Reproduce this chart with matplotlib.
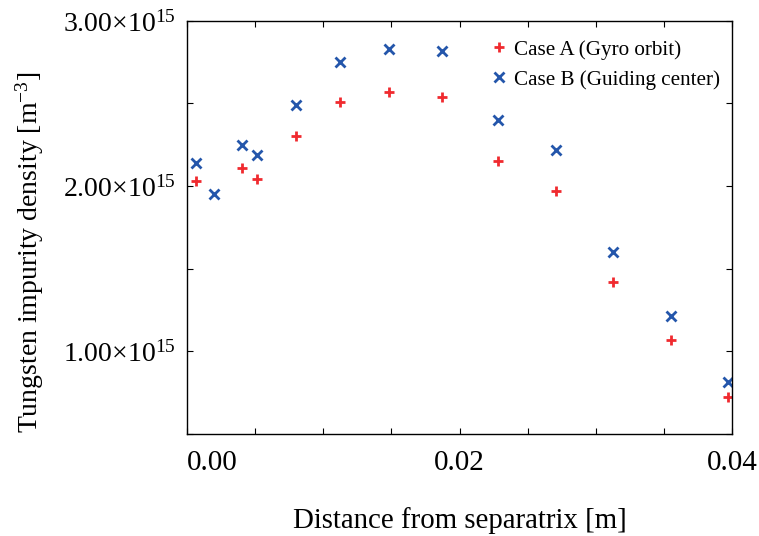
import numpy as np
import matplotlib
matplotlib.use('Agg')
import matplotlib.pyplot as plt
from matplotlib.ticker import MultipleLocator, FuncFormatter

plt.rcParams['font.family'] = ['Liberation Serif', 'DejaVu Serif']
plt.rcParams['mathtext.fontset'] = 'custom'
plt.rcParams['mathtext.rm'] = 'Liberation Serif'
plt.rcParams['mathtext.it'] = 'Liberation Serif:italic'

# distance from separatrix [m]
dist_a = [0.00068, 0.00403, 0.00518, 0.00799, 0.01124, 0.01485, 0.01874,
          0.02284, 0.02705, 0.03127, 0.03553, 0.03966]
dens_a = [2.03e15, 2.11e15, 2.04e15, 2.30e15, 2.51e15, 2.57e15, 2.54e15,
          2.15e15, 1.97e15, 1.42e15, 1.07e15, 0.72e15]

dist_b = [0.00068, 0.00202, 0.00403, 0.00518, 0.00799, 0.01124, 0.01485,
          0.01874, 0.02284, 0.02705, 0.03127, 0.03553, 0.03966]
dens_b = [2.14e15, 1.95e15, 2.25e15, 2.19e15, 2.49e15, 2.75e15, 2.83e15,
          2.82e15, 2.40e15, 2.22e15, 1.60e15, 1.21e15, 0.81e15]

fig = plt.figure(figsize=(7.59, 5.36), dpi=100)
ax = fig.add_axes([0.246, 0.191, 0.719, 0.770])

ax.plot(dist_a, dens_a, '+', color='#f02a2f', ms=7, mew=2,
        label='Case A (Gyro orbit)')
ax.plot(dist_b, dens_b, 'x', color='#2456ab', ms=6.5, mew=2,
        label='Case B (Guiding center)')

ax.set_xlim(0, 0.04)
ax.set_ylim(0.5e15, 3.0e15)

ax.xaxis.set_major_locator(MultipleLocator(0.02))
ax.xaxis.set_minor_locator(MultipleLocator(0.005))
ax.yaxis.set_major_locator(MultipleLocator(1e15))
ax.yaxis.set_minor_locator(MultipleLocator(0.5e15))
ax.xaxis.set_major_formatter(FuncFormatter(lambda v, p: f'{v:.2f}'))
ax.yaxis.set_major_formatter(
    FuncFormatter(lambda v, p: r'$%.2f{\times}10^{15}$' % (v / 1e15)))

ax.tick_params(which='both', direction='in', top=True, right=True,
               length=4, width=0.8, labelsize=20)
ax.tick_params(axis='x', pad=12, labelsize=21)
ax.tick_params(axis='y', pad=8)
for s in ax.spines.values():
    s.set_linewidth(1.0)

ax.set_xlabel('Distance from separatrix [m]', fontsize=20.8, labelpad=22)
ax.set_ylabel(r'Tungsten impurity density [m$^{-3}$]', fontsize=20)
ax.yaxis.set_label_coords(-0.258, 0.44)

ax.legend(loc='upper right', bbox_to_anchor=(1.0, 0.985), frameon=False,
          fontsize=15.2, handlelength=0.6, handletextpad=0.4,
          borderaxespad=0.2, labelspacing=0.5)

fig.canvas.draw()
for tick in ax.xaxis.get_major_ticks():
    if abs(tick.get_loc()) < 1e-9:
        tick.label1.set_horizontalalignment('left')

fig.savefig('out.png', dpi=100)
